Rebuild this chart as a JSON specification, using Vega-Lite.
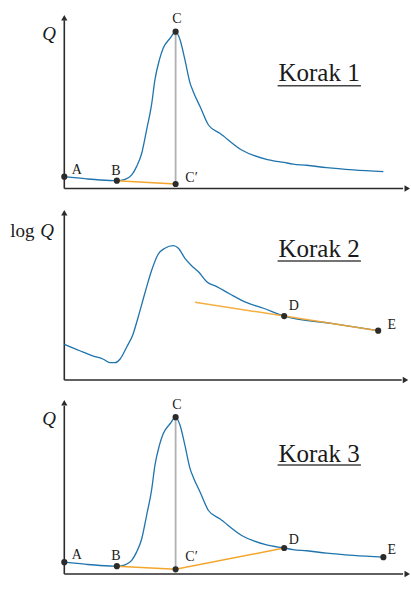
{
  "$schema": "https://vega.github.io/schema/vega-lite/v6.json",
  "padding": 0,
  "spacing": 0,
  "background": "white",
  "config": {"view": {"stroke": null}},
  "resolve": {"scale": {"x": "independent", "y": "independent"}},
  "datasets": {
    "hydro": [
      {"t": 0, "v": 6.8}, {"t": 6.5, "v": 5.5}, {"t": 10.3, "v": 4.9}, {"t": 15.2, "v": 4.5},
      {"t": 17.6, "v": 5.3}, {"t": 19.5, "v": 7.8}, {"t": 20.9, "v": 12.6}, {"t": 22.4, "v": 20.3},
      {"t": 23.8, "v": 33.7}, {"t": 25.3, "v": 49.1}, {"t": 26.2, "v": 62.5}, {"t": 27.5, "v": 74.1},
      {"t": 28.6, "v": 80.8}, {"t": 30.6, "v": 86.6}, {"t": 32.2, "v": 90.4}, {"t": 33.5, "v": 85.6},
      {"t": 34.9, "v": 74.1}, {"t": 36.4, "v": 60.6}, {"t": 37.3, "v": 55.8}, {"t": 39.3, "v": 47.1},
      {"t": 41.7, "v": 36.6}, {"t": 45.0, "v": 31.8}, {"t": 51.3, "v": 22.2}, {"t": 58.5, "v": 16.8},
      {"t": 63.6, "v": 15.0}, {"t": 66.2, "v": 14.1}, {"t": 70.1, "v": 13.4}, {"t": 75.9, "v": 12.0},
      {"t": 83.6, "v": 10.7}, {"t": 92.3, "v": 9.7}
    ],
    "logq": [
      {"t": 0, "v": 21.0}, {"t": 4.5, "v": 17.2}, {"t": 8.4, "v": 14.1}, {"t": 11.3, "v": 12.2},
      {"t": 13.2, "v": 10.2}, {"t": 14.7, "v": 10.2}, {"t": 16.1, "v": 12.2}, {"t": 18.1, "v": 19.6},
      {"t": 19.8, "v": 26.5}, {"t": 21.4, "v": 37.2}, {"t": 23.3, "v": 51.0}, {"t": 25.3, "v": 64.7},
      {"t": 27.2, "v": 74.1}, {"t": 29.1, "v": 77.5}, {"t": 31.5, "v": 79.0}, {"t": 33.0, "v": 77.5},
      {"t": 34.9, "v": 71.6}, {"t": 36.9, "v": 67.1}, {"t": 38.8, "v": 63.7}, {"t": 41.2, "v": 57.8},
      {"t": 44.1, "v": 54.9}, {"t": 47.9, "v": 50.6}, {"t": 52.8, "v": 45.5}, {"t": 57.6, "v": 42.2},
      {"t": 63.6, "v": 37.6}, {"t": 77.2, "v": 33.3}, {"t": 90.8, "v": 29.0}
    ]
  },
  "vconcat": [
    {
      "width": 411,
      "height": 195,
      "encoding": {
        "x": {"field": "t", "type": "quantitative", "scale": {"domain": [-18.6, 100.29], "nice": false, "zero": false}, "axis": null},
        "y": {"field": "v", "type": "quantitative", "scale": {"domain": [-3.746, 108.65], "nice": false, "zero": false}, "axis": null}
      },
      "layer": [
        {
          "data": {"values": [{"t": 0, "v": 0, "t2": 0, "v2": 97}, {"t": 0, "v": 0, "t2": 98, "v2": 0}]},
          "mark": {"type": "rule", "color": "#2b2b2b", "strokeWidth": 1.6},
          "encoding": {"x2": {"field": "t2"}, "y2": {"field": "v2"}}
        },
        {
          "data": {"values": [{"t": 0, "v": 98.4, "dir": "up"}, {"t": 99.2, "v": 0, "dir": "right"}]},
          "mark": {"type": "point", "filled": true, "color": "#2b2b2b", "opacity": 1, "size": 40},
          "encoding": {"shape": {"field": "dir", "type": "nominal", "scale": {"domain": ["up", "right"], "range": ["triangle-up", "triangle-right"]}, "legend": null}}
        },
        {
          "data": {"values": [{"t": 32.2, "v": 90.4, "v2": 2.6}]},
          "mark": {"type": "rule", "color": "#b0b0b0", "strokeWidth": 1.8},
          "encoding": {"y2": {"field": "v2"}}
        },
        {
          "data": {"name": "hydro"},
          "mark": {"type": "line", "color": "#1f74ad", "strokeWidth": 1.3, "interpolate": "monotone"}
        },
        {
          "data": {"values": [{"t": 15.2, "v": 4.5}, {"t": 32.2, "v": 2.6}]},
          "mark": {"type": "line", "color": "#f4a52c", "strokeWidth": 1.5}
        },
        {
          "data": {"values": [
            {"label": "A", "t": 0, "v": 6.8}, {"label": "B", "t": 15.2, "v": 4.5},
            {"label": "C", "t": 32.2, "v": 90.4}, {"label": "C′", "t": 32.2, "v": 2.6}
          ]},
          "mark": {"type": "circle", "color": "#2b2b2b", "opacity": 1, "size": 38}
        },
        {
          "data": {"values": [
            {"label": "A", "t": 3.6, "v": 8.4}, {"label": "B", "t": 14.9, "v": 7.8},
            {"label": "C", "t": 32.6, "v": 95.2}, {"label": "C′", "t": 36.8, "v": 3.9}
          ]},
          "mark": {"type": "text", "font": "Liberation Serif", "fontSize": 14, "color": "#1a1a1a", "align": "center", "baseline": "alphabetic"},
          "encoding": {"text": {"field": "label"}}
        },
        {
          "data": {"values": [{"label": "Korak 1", "t": 73.7, "v": 61.8}]},
          "mark": {"type": "text", "font": "Liberation Serif", "fontSize": 25, "color": "#1a1a1a", "align": "center", "baseline": "alphabetic"},
          "encoding": {"text": {"field": "label"}}
        },
        {
          "data": {"values": [{"t": 61.7, "t2": 85.8, "v": 59.2}]},
          "mark": {"type": "rule", "color": "#444444", "strokeWidth": 1.6},
          "encoding": {"x2": {"field": "t2"}}
        },
        {
          "data": {"values": [{"label": "Q", "t": -4.4, "v": 85.6}]},
          "mark": {"type": "text", "font": "Liberation Serif", "fontStyle": "italic", "fontSize": 19, "color": "#1a1a1a", "align": "center", "baseline": "alphabetic"},
          "encoding": {"text": {"field": "label"}}
        }
      ]
    },
    {
      "width": 411,
      "height": 195,
      "encoding": {
        "x": {"field": "t", "type": "quantitative", "scale": {"domain": [-18.6, 100.29], "nice": false, "zero": false}, "axis": null},
        "y": {"field": "v", "type": "quantitative", "scale": {"domain": [-5.882, 108.82], "nice": false, "zero": false}, "axis": null}
      },
      "layer": [
        {
          "data": {"values": [{"t": 0, "v": 0, "t2": 0, "v2": 97}, {"t": 0, "v": 0, "t2": 97.6, "v2": 0}]},
          "mark": {"type": "rule", "color": "#2b2b2b", "strokeWidth": 1.6},
          "encoding": {"x2": {"field": "t2"}, "y2": {"field": "v2"}}
        },
        {
          "data": {"values": [{"t": 0, "v": 98.4, "dir": "up"}, {"t": 98.7, "v": 0, "dir": "right"}]},
          "mark": {"type": "point", "filled": true, "color": "#2b2b2b", "opacity": 1, "size": 40},
          "encoding": {"shape": {"field": "dir", "type": "nominal", "scale": {"domain": ["up", "right"], "range": ["triangle-up", "triangle-right"]}, "legend": null}}
        },
        {
          "data": {"name": "logq"},
          "mark": {"type": "line", "color": "#1f74ad", "strokeWidth": 1.3, "interpolate": "monotone"}
        },
        {
          "data": {"values": [{"t": 37.8, "v": 45.8}, {"t": 63.6, "v": 37.6}, {"t": 90.8, "v": 29.0}]},
          "mark": {"type": "line", "color": "#f4a52c", "strokeWidth": 1.5, "opacity": 0.9}
        },
        {
          "data": {"values": [{"label": "D", "t": 63.6, "v": 37.6}, {"label": "E", "t": 90.8, "v": 29.0}]},
          "mark": {"type": "circle", "color": "#2b2b2b", "opacity": 1, "size": 38}
        },
        {
          "data": {"values": [{"label": "D", "t": 66.4, "v": 41.2}, {"label": "E", "t": 94.7, "v": 30.0}, {"label": "log", "t": -12.1, "v": 84.3}]},
          "mark": {"type": "text", "font": "Liberation Serif", "fontSize": 14, "color": "#1a1a1a", "align": "center", "baseline": "alphabetic"},
          "encoding": {"text": {"field": "label"}, "size": {"condition": {"test": "datum.label === 'log'", "value": 19}, "value": 14}}
        },
        {
          "data": {"values": [{"label": "Korak 2", "t": 73.7, "v": 72.2}]},
          "mark": {"type": "text", "font": "Liberation Serif", "fontSize": 25, "color": "#1a1a1a", "align": "center", "baseline": "alphabetic"},
          "encoding": {"text": {"field": "label"}}
        },
        {
          "data": {"values": [{"t": 61.7, "t2": 85.8, "v": 70.0}]},
          "mark": {"type": "rule", "color": "#444444", "strokeWidth": 1.6},
          "encoding": {"x2": {"field": "t2"}}
        },
        {
          "data": {"values": [{"label": "Q", "t": -4.95, "v": 84.3}]},
          "mark": {"type": "text", "font": "Liberation Serif", "fontStyle": "italic", "fontSize": 19, "color": "#1a1a1a", "align": "center", "baseline": "alphabetic"},
          "encoding": {"text": {"field": "label"}}
        }
      ]
    },
    {
      "width": 411,
      "height": 204,
      "encoding": {
        "x": {"field": "t", "type": "quantitative", "scale": {"domain": [-18.6, 100.29], "nice": false, "zero": false}, "axis": null},
        "y": {"field": "v", "type": "quantitative", "scale": {"domain": [-11.527, 106.05], "nice": false, "zero": false}, "axis": null}
      },
      "layer": [
        {
          "data": {"values": [{"t": 0, "v": 0, "t2": 0, "v2": 97}, {"t": 0, "v": 0, "t2": 98, "v2": 0}]},
          "mark": {"type": "rule", "color": "#2b2b2b", "strokeWidth": 1.6},
          "encoding": {"x2": {"field": "t2"}, "y2": {"field": "v2"}}
        },
        {
          "data": {"values": [{"t": 0, "v": 98.7, "dir": "up"}, {"t": 99.2, "v": 0, "dir": "right"}]},
          "mark": {"type": "point", "filled": true, "color": "#2b2b2b", "opacity": 1, "size": 40},
          "encoding": {"shape": {"field": "dir", "type": "nominal", "scale": {"domain": ["up", "right"], "range": ["triangle-up", "triangle-right"]}, "legend": null}}
        },
        {
          "data": {"values": [{"t": 32.2, "v": 90.4, "v2": 2.7}]},
          "mark": {"type": "rule", "color": "#b0b0b0", "strokeWidth": 1.8},
          "encoding": {"y2": {"field": "v2"}}
        },
        {
          "data": {"name": "hydro"},
          "mark": {"type": "line", "color": "#1f74ad", "strokeWidth": 1.3, "interpolate": "monotone"}
        },
        {
          "data": {"values": [{"t": 15.2, "v": 4.5}, {"t": 32.2, "v": 2.7}, {"t": 63.6, "v": 15.0}]},
          "mark": {"type": "line", "color": "#f4a52c", "strokeWidth": 1.5}
        },
        {
          "data": {"values": [
            {"label": "A", "t": 0, "v": 6.8}, {"label": "B", "t": 15.2, "v": 4.5},
            {"label": "C", "t": 32.2, "v": 90.4}, {"label": "C′", "t": 32.2, "v": 2.7},
            {"label": "D", "t": 63.6, "v": 15.0}, {"label": "E", "t": 92.3, "v": 9.7}
          ]},
          "mark": {"type": "circle", "color": "#2b2b2b", "opacity": 1, "size": 38}
        },
        {
          "data": {"values": [
            {"label": "A", "t": 3.6, "v": 8.6}, {"label": "B", "t": 14.9, "v": 8.1},
            {"label": "C", "t": 32.6, "v": 95.1}, {"label": "C′", "t": 36.8, "v": 7.7},
            {"label": "D", "t": 66.4, "v": 17.1}, {"label": "E", "t": 94.7, "v": 11.4}
          ]},
          "mark": {"type": "text", "font": "Liberation Serif", "fontSize": 14, "color": "#1a1a1a", "align": "center", "baseline": "alphabetic"},
          "encoding": {"text": {"field": "label"}}
        },
        {
          "data": {"values": [{"label": "Korak 3", "t": 73.7, "v": 64.4}]},
          "mark": {"type": "text", "font": "Liberation Serif", "fontSize": 25, "color": "#1a1a1a", "align": "center", "baseline": "alphabetic"},
          "encoding": {"text": {"field": "label"}}
        },
        {
          "data": {"values": [{"t": 61.7, "t2": 85.8, "v": 62.8}]},
          "mark": {"type": "rule", "color": "#444444", "strokeWidth": 1.6},
          "encoding": {"x2": {"field": "t2"}}
        },
        {
          "data": {"values": [{"label": "Q", "t": -4.4, "v": 85.6}]},
          "mark": {"type": "text", "font": "Liberation Serif", "fontStyle": "italic", "fontSize": 19, "color": "#1a1a1a", "align": "center", "baseline": "alphabetic"},
          "encoding": {"text": {"field": "label"}}
        }
      ]
    }
  ]
}
